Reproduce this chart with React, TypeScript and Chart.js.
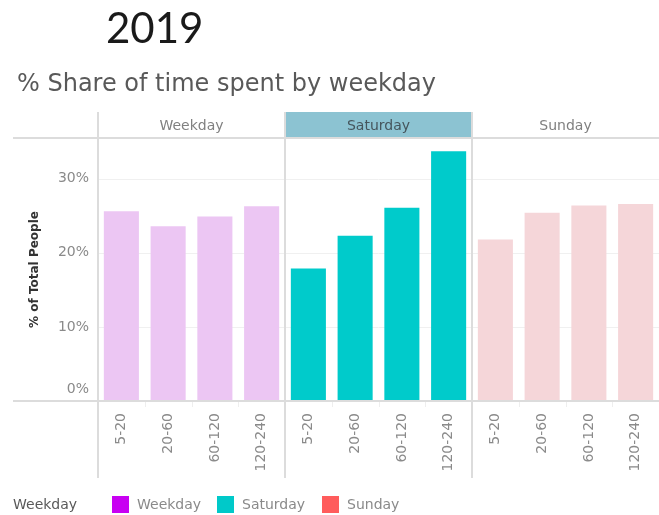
import React, { useEffect, useRef } from "react";
import { Chart, registerables } from "chart.js";

Chart.register(...registerables);

const panels = ["Weekday", "Saturday", "Sunday"];
const durations = ["5-20", "20-60", "60-120", "120-240"];
const weekdayValues = [25.6, 23.6, 24.9, 26.3];
const saturdayValues = [17.9, 22.3, 26.1, 33.7];
const sundayValues = [21.8, 25.4, 26.4, 26.6];
const yTicks = [0, 10, 20, 30];
const barColors = ["#ecc6f3", "#00cbcb", "#f5d6d9"];
const legendColors = ["#c800f2", "#00c9c9", "#ff5c5c"];

const FONT = "'DejaVu Sans', sans-serif";

export default function App() {
  const ref = useRef<HTMLCanvasElement | null>(null);

  useEffect(() => {
    const canvas = ref.current;
    if (!canvas) return;
    const labels: string[] = [];
    const values: number[] = [];
    const colors: string[] = [];
    const series = [weekdayValues, saturdayValues, sundayValues];
    series.forEach((arr, p) => {
      arr.forEach((v, i) => {
        labels.push(durations[i]);
        values.push(v);
        colors.push(barColors[p]);
      });
    });

    const decor = {
      id: "decor",
      beforeDatasetsDraw(chart: any) {
        const ctx = chart.ctx;
        const area = chart.chartArea;
        const y = chart.scales.y;
        ctx.save();
        ctx.strokeStyle = "#f0f0f0";
        ctx.lineWidth = 1;
        [10, 20, 30].forEach((v) => {
          const py = Math.round(y.getPixelForValue(v)) + 0.5;
          ctx.beginPath();
          ctx.moveTo(area.left, py);
          ctx.lineTo(area.right, py);
          ctx.stroke();
        });
        ctx.restore();
      },
      afterDraw(chart: any) {
        const ctx = chart.ctx;
        const area = chart.chartArea;
        const x = chart.scales.x;
        const y = chart.scales.y;
        const step = x.getPixelForValue(1) - x.getPixelForValue(0);
        const headerTop = area.top - 26;
        ctx.save();
        // headers
        panels.forEach((name, p) => {
          const l = x.getPixelForValue(p * 4) - step / 2;
          const r = x.getPixelForValue(p * 4 + 3) + step / 2;
          if (name === "Saturday") {
            ctx.fillStyle = "#8cc3d2";
            ctx.fillRect(l, headerTop, r - l, area.top - headerTop);
          }
          ctx.fillStyle = name === "Saturday" ? "#45555c" : "#808080";
          ctx.font = "14px " + FONT;
          ctx.textAlign = "center";
          ctx.textBaseline = "middle";
          ctx.fillText(name, (l + r) / 2, (headerTop + area.top) / 2 + 1);
        });
        // horizontal frame lines
        ctx.strokeStyle = "#dcdcdc";
        ctx.lineWidth = 2;
        ctx.beginPath();
        ctx.moveTo(13, area.top);
        ctx.lineTo(chart.width, area.top);
        const zy = y.getPixelForValue(0);
        ctx.moveTo(13, zy);
        ctx.lineTo(chart.width, zy);
        ctx.stroke();
        // vertical panel lines
        for (let p = 0; p < 3; p++) {
          const l = x.getPixelForValue(p * 4) - step / 2;
          ctx.beginPath();
          ctx.moveTo(l, headerTop);
          ctx.lineTo(l, 478);
          ctx.stroke();
        }
        // small ticks between categories
        ctx.strokeStyle = "#eeeeee";
        ctx.lineWidth = 1;
        for (let i = 1; i < 12; i++) {
          if (i % 4 === 0) continue;
          const px = Math.round(x.getPixelForValue(i) - step / 2) + 0.5;
          ctx.beginPath();
          ctx.moveTo(px, zy + 1);
          ctx.lineTo(px, zy + 6);
          ctx.stroke();
        }
        // y tick labels
        ctx.fillStyle = "#8a8a8a";
        ctx.font = "14px " + FONT;
        ctx.textAlign = "right";
        ctx.textBaseline = "middle";
        yTicks.forEach((v) => {
          let py = y.getPixelForValue(v);
          if (v === 0) py -= 12;
          ctx.fillText(v + "%", area.left - 9, py);
        });
        // titles
        ctx.fillStyle = "#1a1a1a";
        ctx.font = "42px Lato, 'Open Sans', sans-serif";
        ctx.textAlign = "left";
        ctx.textBaseline = "middle";
        ctx.fillText("2019", 106, 29);
        ctx.fillStyle = "#595959";
        ctx.font = "24px " + FONT;
        ctx.fillText("% Share of time spent by weekday", 17, 85);
        // legend
        ctx.font = "14px " + FONT;
        ctx.fillStyle = "#595959";
        ctx.fillText("Weekday", 13, 505);
        const lx = [112, 217, 322];
        panels.forEach((name, p) => {
          ctx.fillStyle = legendColors[p];
          ctx.fillRect(lx[p], 496, 17, 17);
          ctx.fillStyle = "#8a8a8a";
          ctx.fillText(name, lx[p] + 25, 505);
        });
        ctx.restore();
      },
    };

    const chart = new Chart(canvas, {
      type: "bar",
      data: {
        labels,
        datasets: [
          {
            label: "% of Total People",
            data: values,
            backgroundColor: colors,
            borderWidth: 0,
            barPercentage: 0.75,
            categoryPercentage: 1,
          },
        ],
      },
      options: {
        animation: false,
        responsive: false,
        maintainAspectRatio: false,
        layout: { padding: { top: 138, left: 28, right: 0, bottom: 0 } },
        plugins: {
          legend: { display: false },
          tooltip: { enabled: false },
          title: { display: false },
        },
        scales: {
          x: {
            grid: { display: false },
            border: { display: false },
            ticks: {
              minRotation: 90,
              maxRotation: 90,
              autoSkip: false,
              color: "#8a8a8a",
              font: { size: 14, family: FONT },
              padding: 4,
            },
            afterFit(scale: any) {
              scale.height = 114;
              scale.paddingLeft = 0;
              scale.paddingRight = 0;
            },
          },
          y: {
            min: 0,
            max: 35.5,
            grid: { display: false },
            border: { display: false },
            ticks: { display: false },
            afterBuildTicks(scale: any) {
              scale.ticks = yTicks.map((v) => ({ value: v }));
            },
            title: {
              display: true,
              text: "% of Total People",
              color: "#333",
              font: { size: 12, weight: "bold", family: FONT },
              padding: { top: 0, bottom: 0 },
            },
            afterFit(scale: any) {
              scale.width = 70;
            },
          },
        },
      },
      plugins: [decor],
    });
    return () => chart.destroy();
  }, []);

  return (
    <div style={{ position: "fixed", left: 0, top: 0, width: 659, height: 515, background: "#fff" }}>
      <canvas ref={ref} width={659} height={515} style={{ width: 659, height: 515, display: "block" }} />
    </div>
  );
}
